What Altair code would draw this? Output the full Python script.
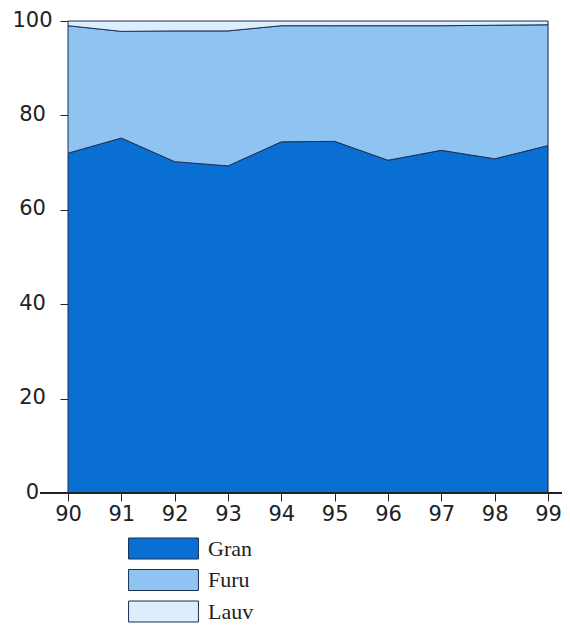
import altair as alt
import pandas as pd

years = [90, 91, 92, 93, 94, 95, 96, 97, 98, 99]
species = ["Gran", "Furu", "Lauv"]
gran = [72.0, 75.2, 70.2, 69.3, 74.4, 74.5, 70.5, 72.6, 70.8, 73.6]
furu = [27.0, 22.6, 27.7, 28.6, 24.6, 24.5, 28.5, 26.4, 28.3, 25.6]
lauv = [1.0, 2.2, 2.1, 2.1, 1.0, 1.0, 1.0, 1.0, 0.9, 0.8]
colors = ["#0a6fd2", "#8fc3f2", "#dcedfb"]
y_ticks = [0, 20, 40, 60, 80, 100]

rows = []
for i, name in enumerate(species):
    vals = [gran, furu, lauv][i]
    for yr, v in zip(years, vals):
        rows.append({"year": yr, "art": name, "andel": v, "idx": i})
df = pd.DataFrame(rows)

W, H = 480, 472
STROKE = "#1b2f55"
AXFONT = "DejaVu Sans"

area = alt.Chart(df).mark_area(stroke=STROKE, strokeWidth=1, opacity=1).encode(
    x=alt.X("year:Q",
            scale=alt.Scale(domain=[90, 99], nice=False, zero=False),
            axis=alt.Axis(values=years, format="d", title=None, grid=False,
                          domain=False, tickSize=8, tickColor="#222",
                          tickWidth=1, labelFontSize=21,
                          labelFont=AXFONT, labelColor="#222",
                          labelPadding=2, labelFlush=False)),
    y=alt.Y("andel:Q", stack="zero",
            scale=alt.Scale(domain=[0, 100], nice=False),
            axis=alt.Axis(values=y_ticks, title=None, grid=False, domain=False,
                          tickSize=8, tickColor="#222", tickWidth=1,
                          labelFontSize=21, labelFont=AXFONT,
                          labelColor="#222", labelPadding=28,
                          labelAlign="center", labelOffset=-1,
                          labelFlush=False)),
    color=alt.Color("art:N",
                    scale=alt.Scale(domain=species, range=colors),
                    legend=alt.Legend(title=None, orient="none",
                                      legendX=80, legendY=512,
                                      symbolType="M-2.33,-0.7H2.33V0.7H-2.33Z",
                                      symbolSize=900,
                                      symbolStrokeColor=STROKE,
                                      symbolStrokeWidth=1,
                                      symbolOpacity=1,
                                      labelFont="Liberation Serif",
                                      labelFontSize=22, labelColor="#222",
                                      labelOffset=29, rowPadding=3.5)),
    order=alt.Order("idx:Q"),
)

baseline = alt.Chart(df).mark_rule(color="#222", strokeWidth=1).encode(
    x=alt.value(-28), x2=alt.value(W + 17), y=alt.value(H)
)

chart = alt.layer(area, baseline).properties(
    width=W, height=H,
    padding={"left": 60, "top": 13, "right": 14, "bottom": 132},
    autosize=alt.AutoSizeParams(type="none"),
).configure_view(stroke=None).configure(background="white")

chart.save("out.html", embed_options={"renderer": "svg", "actions": False})
